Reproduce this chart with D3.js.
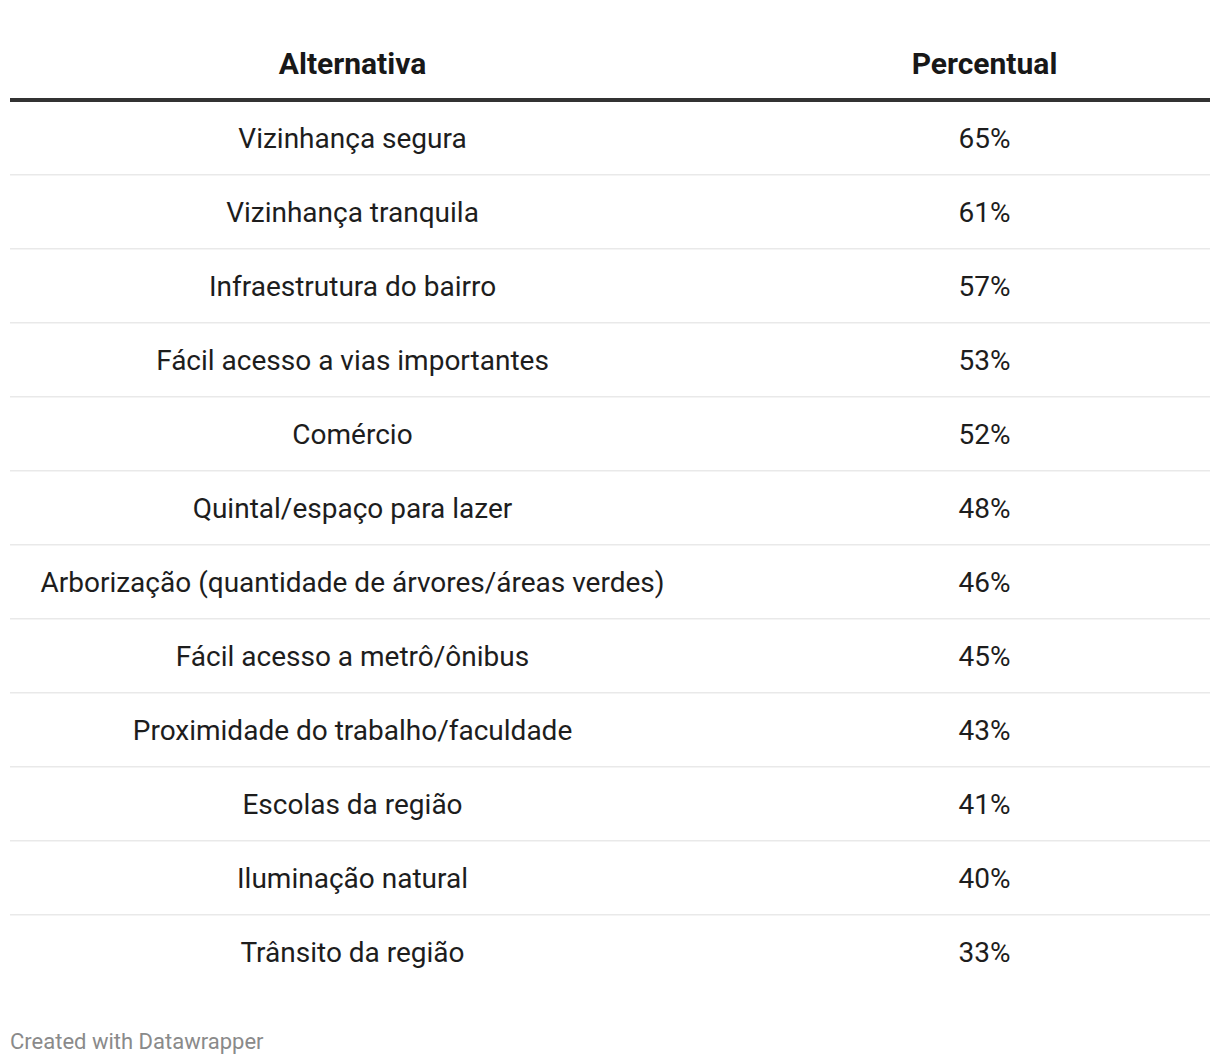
<!DOCTYPE html>
<html><head><meta charset="utf-8">
<script src="https://cdn.jsdelivr.net/npm/d3@7"></script>
<style>body{margin:0;background:#fff;} svg{display:block;}</style>
</head><body>
<script>
const headers = ["Alternativa", "Percentual"];
const alternativas = ["Vizinhança segura","Vizinhança tranquila","Infraestrutura do bairro","Fácil acesso a vias importantes","Comércio","Quintal/espaço para lazer","Arborização (quantidade de árvores/áreas verdes)","Fácil acesso a metrô/ônibus","Proximidade do trabalho/faculdade","Escolas da região","Iluminação natural","Trânsito da região"];
const percentuais = [65,61,57,53,52,48,46,45,43,41,40,33];
const footer = "Created with Datawrapper";

const W = 1220, H = 1064;
const svg = d3.select("body").append("svg").attr("width", W).attr("height", H);
const font = "Roboto, sans-serif";
const left = 10, right = 1210;
const colX = [352.5, 984.5];

// header
svg.selectAll("text.h").data(headers).join("text").attr("class","h")
  .attr("x",(d,i)=>colX[i]).attr("y",63).attr("dy","0.35em")
  .attr("text-anchor","middle").attr("font-family",font).attr("font-weight",700)
  .attr("font-size",30).attr("fill","#181818").text(d=>d);
svg.append("rect").attr("x",left).attr("y",98).attr("width",right-left).attr("height",4).attr("fill","#333");

const rows = alternativas.map((a,i)=>({a, p:percentuais[i]}));
const y = d3.scaleBand().domain(d3.range(rows.length)).range([101, 101+74*rows.length]);

const g = svg.selectAll("g.row").data(rows).join("g").attr("class","row")
  .attr("transform",(d,i)=>`translate(0,${y(i)})`);
g.append("text").attr("x",colX[0]).attr("y",y.bandwidth()/2).attr("dy","0.35em")
  .attr("text-anchor","middle").attr("font-family",font).attr("font-size",28).attr("fill","#1d1d1d").text(d=>d.a);
g.append("text").attr("x",colX[1]).attr("y",y.bandwidth()/2).attr("dy","0.35em")
  .attr("text-anchor","middle").attr("font-family",font).attr("font-size",28).attr("fill","#1d1d1d").text(d=>d.p+"%");
g.filter((d,i)=>i<rows.length-1).append("rect").attr("x",left).attr("y",y.bandwidth()-1).attr("width",right-left).attr("height",1.5).attr("fill","#e9e9e9");

svg.append("text").attr("x",10).attr("y",1041).attr("dy","0.35em")
  .attr("font-family",font).attr("font-size",22).attr("fill","#8a8a8a").text(footer);
</script>
</body></html>
